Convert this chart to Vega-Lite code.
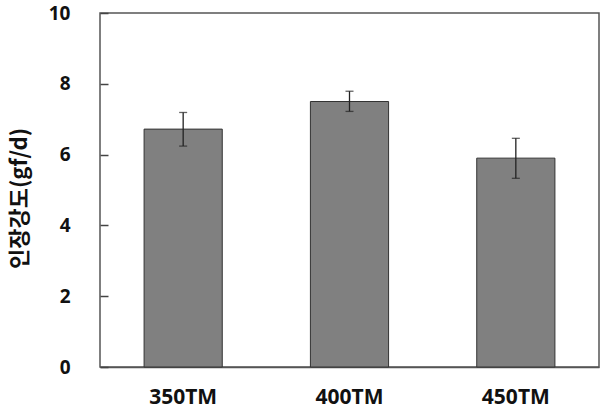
{
  "$schema": "https://vega.github.io/schema/vega-lite/v6.json",
  "width": 499,
  "height": 354,
  "autosize": {"type": "none"},
  "padding": {"left": 100, "top": 13, "right": 6, "bottom": 43},
  "background": "white",
  "config": {
    "view": {"stroke": "#555555", "strokeWidth": 1.5},
    "axis": {"grid": false, "domainColor": "#555555", "domainWidth": 1.5, "tickColor": "#444444", "tickWidth": 1.5, "labelFont": "Noto Sans", "labelFontWeight": "bold", "labelFontSize": 19, "labelColor": "#111111"}
  },
  "data": {
    "values": [
      {"group": "350TM", "value": 6.72, "lo": 6.24, "hi": 7.19},
      {"group": "400TM", "value": 7.5, "lo": 7.22, "hi": 7.79},
      {"group": "450TM", "value": 5.9, "lo": 5.33, "hi": 6.46}
    ]
  },
  "encoding": {
    "x": {"field": "group", "type": "nominal", "sort": null,
      "scale": {"paddingInner": 0.53, "paddingOuter": 0.265},
      "axis": {"title": null, "labelAngle": 0, "ticks": false, "labelPadding": 19, "labelFontSize": 21}}
  },
  "layer": [
    {
      "mark": {"type": "bar", "color": "#808080", "stroke": "#333333", "strokeWidth": 1},
      "encoding": {
        "y": {"field": "value", "type": "quantitative",
          "scale": {"domain": [0, 10], "nice": false},
          "axis": {"values": [0, 2, 4, 6, 8, 10], "domain": false, "ticks": true, "tickSize": 8, "offset": -8, "labelPadding": 30,
            "title": "인장강도(gf/d)", "titleFont": "Noto Sans CJK KR", "titleFontSize": 22, "titleFontWeight": "bold", "titleColor": "#111111",
            "titleAngle": 270, "titleX": -89, "titleY": 185, "titleBaseline": "middle", "titleAlign": "center"}}
      }
    },
    {
      "mark": {"type": "rule", "color": "#222222", "strokeWidth": 1.3},
      "encoding": {
        "y": {"field": "lo", "type": "quantitative"},
        "y2": {"field": "hi"}
      }
    },
    {
      "mark": {"type": "tick", "color": "#222222", "thickness": 1.3, "size": 8},
      "encoding": {"y": {"field": "lo", "type": "quantitative"}}
    },
    {
      "mark": {"type": "tick", "color": "#222222", "thickness": 1.3, "size": 8},
      "encoding": {"y": {"field": "hi", "type": "quantitative"}}
    }
  ]
}
